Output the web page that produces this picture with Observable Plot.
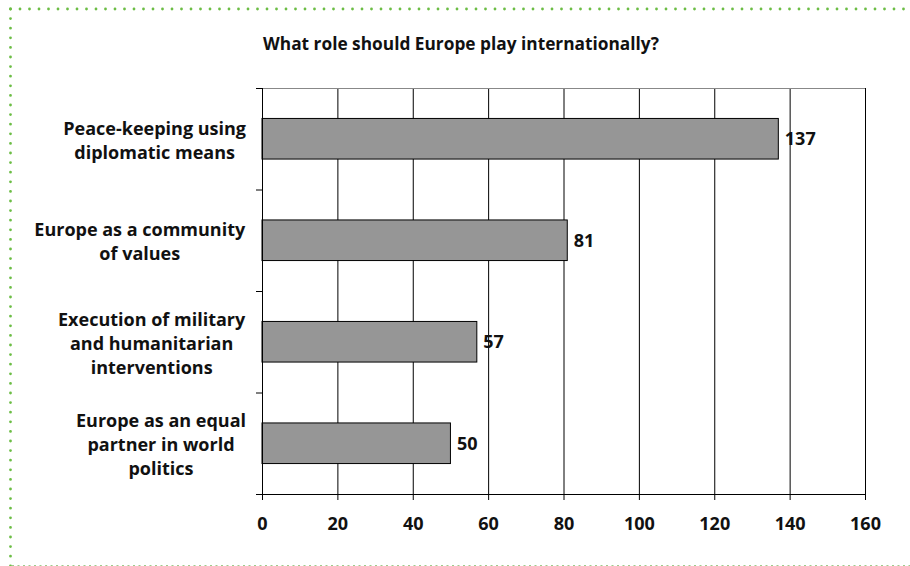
<!DOCTYPE html>
<html><head><meta charset="utf-8">
<script src="https://cdn.jsdelivr.net/npm/d3@7"></script>
<script src="https://cdn.jsdelivr.net/npm/@observablehq/plot@0.6"></script>
<style>
body{margin:0;background:#fff;}
#wrap{position:relative;width:910px;height:566px;overflow:hidden;font-family:"Open Sans",sans-serif;background:#fff;}
#title{position:absolute;top:32px;left:461px;transform:translateX(-50%);white-space:nowrap;font-weight:700;font-size:17.3px;color:#111;}
#deco{position:absolute;left:0;top:0;pointer-events:none;}
#chart{position:absolute;left:0;top:0;}
</style></head><body>
<div id="wrap">
<div id="chart"></div>
<div id="title"></div>
<svg id="deco" width="910" height="566">
  <line x1="10.5" y1="9" x2="910" y2="9" stroke="#6cbd45" stroke-width="2.8" stroke-linecap="round" stroke-dasharray="0 9.5"/>
  <line x1="10.5" y1="9" x2="10.5" y2="566" stroke="#6cbd45" stroke-width="2.8" stroke-linecap="round" stroke-dasharray="0 9.6"/>
  <line x1="12" y1="565.5" x2="910" y2="565.5" stroke="#9fcb8c" stroke-width="1" stroke-dasharray="2 3.5"/>
</svg>
</div>
<script>
const title = "What role should Europe play internationally?";
const categories = [
  "Peace-keeping using\ndiplomatic means",
  "Europe as a community\nof values",
  "Execution of military\nand humanitarian\ninterventions",
  "Europe as an equal\npartner in world\npolitics"
];
const values = [137, 81, 57, 50];
const xTicks = [0, 20, 40, 60, 80, 100, 120, 140, 160];

document.getElementById("title").textContent = title;

const data = categories.map((c, i) => ({category: c, value: values[i], index: i}));
const n = categories.length;
const marginLeft = 262;

const chart = Plot.plot({
  width: 910,
  height: 566,
  marginTop: 88,
  marginBottom: 72,
  marginLeft: marginLeft,
  marginRight: 45,
  style: {fontFamily: "'Open Sans', sans-serif", fontWeight: 700, fontSize: "18px", color: "#111", background: "transparent", overflow: "visible"},
  x: {domain: [0, 160], label: null},
  y: {domain: [0, n], reverse: true, label: null, axis: null},
  marks: [
    Plot.ruleX(xTicks, {stroke: "#000", strokeWidth: 1}),
    Plot.ruleY([0], {stroke: "#888", strokeWidth: 1}),
    Plot.rectX(data, {
      x1: 0, x2: "value",
      y1: d => d.index + 0.3, y2: d => d.index + 0.7,
      fill: "#969696", stroke: "#000", strokeWidth: 1, inset: 0
    }),
    Plot.axisX({ticks: xTicks, tickSize: 6, tickPadding: 17, label: null, stroke: "#000", fontSize: 18, fontWeight: 700}),
    Plot.axisY({ticks: d3.range(n + 1), tickSize: 6, tickFormat: () => "", label: null, stroke: "#000"}),
    Plot.ruleX([0], {stroke: "#000"}),
    Plot.ruleY([n], {stroke: "#000", x1: 0, x2: 160}),
    Plot.text(data, {
      x: 0, y: d => d.index + 0.5, text: "category",
      textAnchor: "middle", lineAnchor: "middle", lineHeight: 1.33,
      fontSize: 18, fontWeight: 700, fill: "#111", className: "cat-label"
    }),
    Plot.text(data, {
      x: "value", y: d => d.index + 0.5, text: d => String(d.value),
      textAnchor: "start", dx: 6, fontSize: 18, fontWeight: 700, fill: "#111"
    })
  ]
});
document.getElementById("chart").appendChild(chart);

// right-align each centred label block 16px left of the axis
const svgRect = chart.getBoundingClientRect();
const target = marginLeft - 16;
chart.querySelectorAll(".cat-label text").forEach(t => {
  const r = t.getBoundingClientRect();
  const right = r.right - svgRect.left;
  const shift = target - right;
  const tr = t.getAttribute("transform") || "";
  t.setAttribute("transform", `translate(${shift},0) ${tr}`);
});
</script>
</body></html>
